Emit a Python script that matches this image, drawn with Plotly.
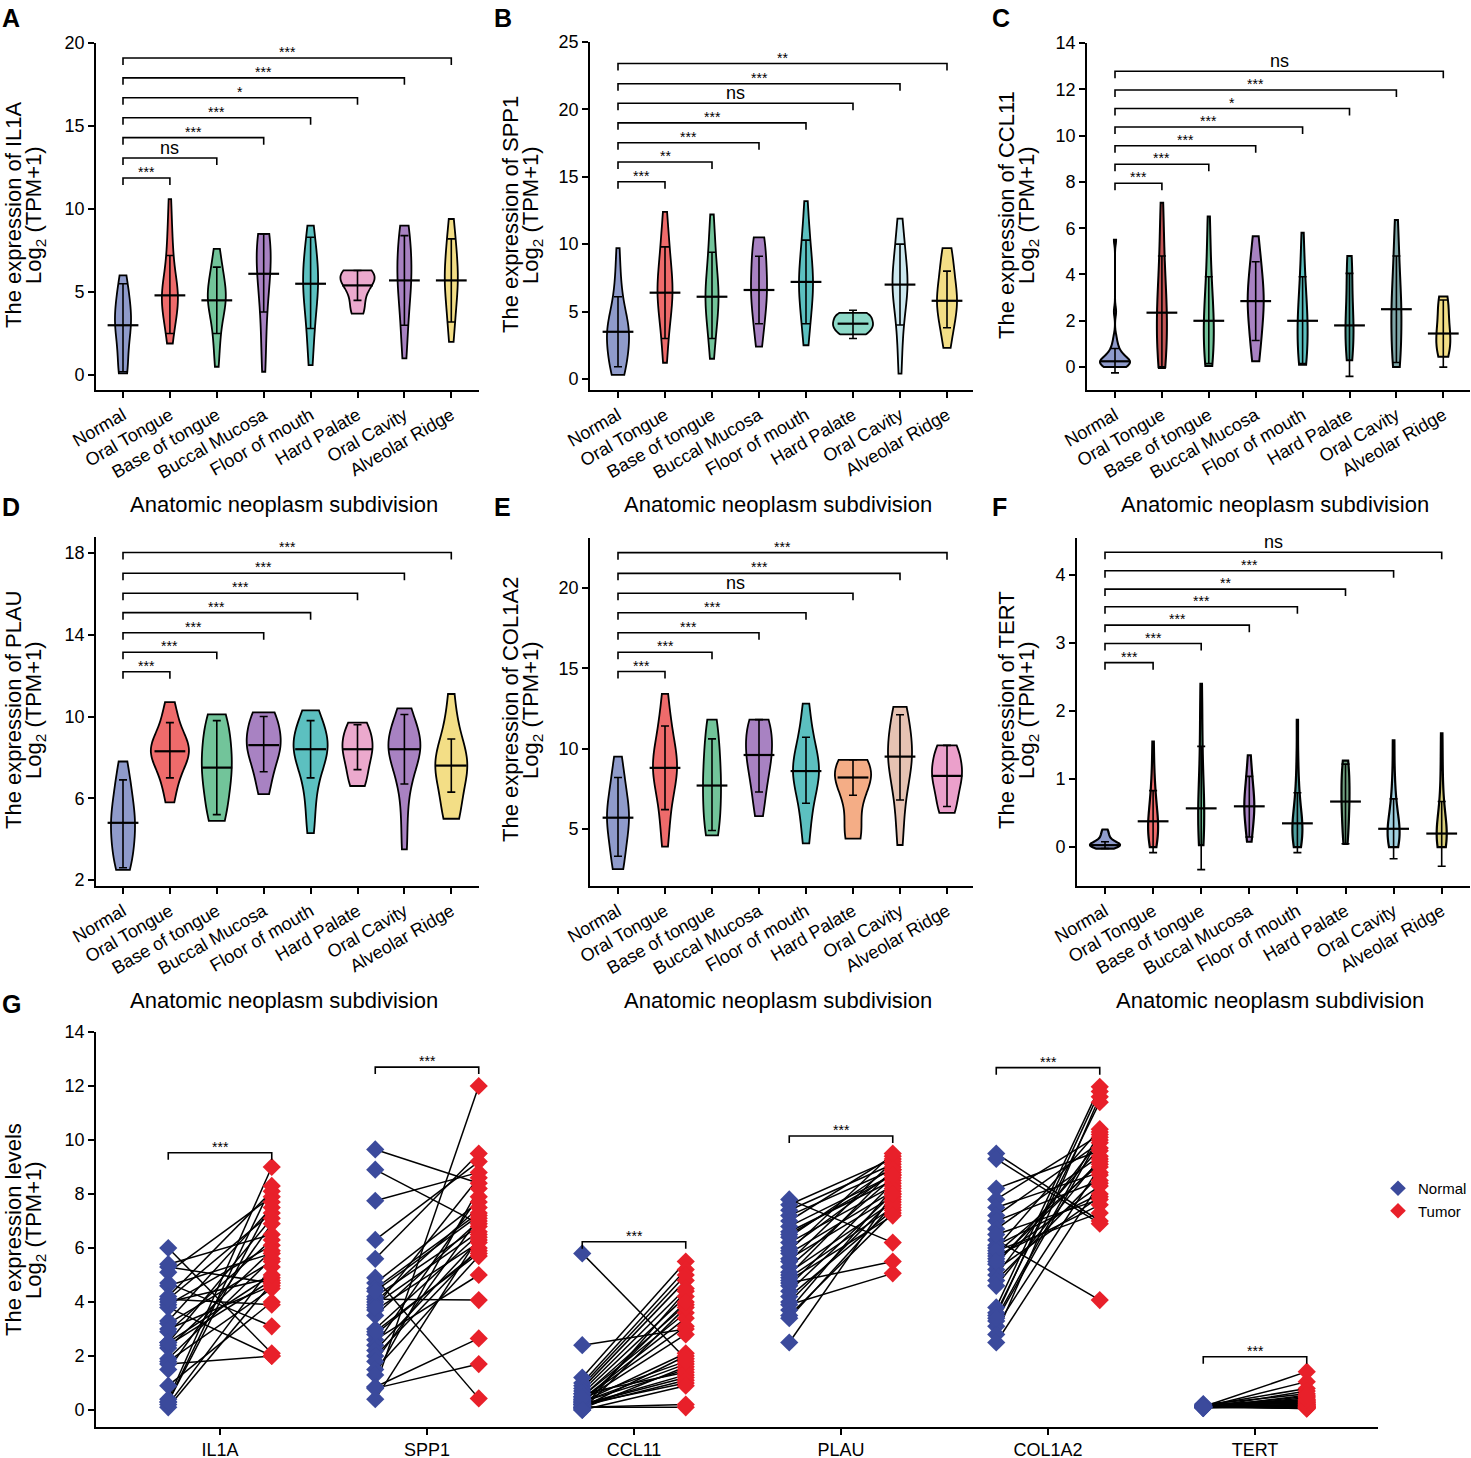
import plotly.graph_objects as go

W, H = 1471, 1458
FONT = "Liberation Sans, Arial, sans-serif"

categories = ["Normal", "Oral Tongue", "Base of tongue", "Buccal Mucosa",
              "Floor of mouth", "Hard Palate", "Oral Cavity", "Alveolar Ridge"]

# ---------------- Panel A : IL1A ----------------
il1a_values = [
    [0.1, 0.1, 0.2, 0.6, 1.2, 1.8, 2.3, 2.7, 2.9, 3.0, 3.1, 3.3, 3.6, 3.9, 4.2, 4.5, 4.8, 5.2, 5.6, 6.0],
    [1.9, 2.4, 2.9, 3.4, 3.8, 4.1, 4.3, 4.5, 4.7, 4.8, 4.9, 5.1, 5.4, 5.8, 6.3, 6.9, 7.5, 8.3, 9.2, 10.6],
    [0.5, 1.4, 2.2, 2.8, 3.3, 3.8, 4.1, 4.4, 4.5, 4.6, 4.8, 5.0, 5.2, 5.5, 5.8, 6.2, 6.6, 7.1, 7.6],
    [0.2, 1.2, 2.4, 3.4, 4.2, 4.9, 5.5, 5.9, 6.1, 6.4, 6.8, 7.2, 7.6, 7.9, 8.2, 8.4, 8.5, 8.5],
    [0.6, 1.6, 2.6, 3.3, 3.9, 4.4, 4.9, 5.3, 5.5, 5.7, 6.0, 6.4, 6.8, 7.3, 7.8, 8.3, 9.0],
    [3.7, 3.8, 4.2, 4.6, 5.0, 5.3, 5.5, 5.6, 5.8, 5.9, 6.0, 6.1, 6.2, 6.3, 6.3],
    [1.0, 2.0, 2.9, 3.6, 4.3, 4.9, 5.3, 5.7, 5.9, 6.2, 6.6, 7.0, 7.5, 8.0, 8.4, 8.7, 9.0],
    [2.0, 2.8, 3.4, 4.1, 4.6, 5.1, 5.5, 5.7, 5.9, 6.2, 6.6, 7.1, 7.6, 8.1, 8.6, 9.4],
]
il1a_median = [3.0, 4.8, 4.5, 6.1, 5.5, 5.4, 5.7, 5.7]
il1a_low = [0.2, 2.5, 2.5, 3.8, 2.8, 4.5, 3.0, 3.2]
il1a_high = [5.5, 7.2, 6.5, 8.5, 8.3, 6.3, 8.4, 8.2]
il1a_sig = ["***", "ns", "***", "***", "*", "***", "***"]

# ---------------- Panel B : SPP1 ----------------
spp1_values = [
    [0.3, 0.4, 0.7, 1.0, 1.4, 1.8, 2.2, 2.6, 2.9, 3.2, 3.4, 3.5, 3.7, 4.0, 4.3, 4.7, 5.2, 5.9, 6.8, 8.0, 9.7],
    [1.2, 2.5, 3.4, 4.2, 4.9, 5.4, 5.9, 6.2, 6.4, 6.6, 6.9, 7.3, 7.8, 8.4, 9.0, 9.6, 10.3, 11.2, 12.4],
    [1.5, 2.6, 3.4, 4.1, 4.7, 5.2, 5.7, 6.0, 6.1, 6.3, 6.7, 7.2, 7.8, 8.5, 9.2, 10.0, 11.0, 12.2],
    [2.4, 3.2, 4.0, 4.7, 5.3, 5.8, 6.2, 6.6, 6.9, 7.3, 7.8, 8.4, 9.0, 9.6, 10.1, 10.5, 10.5],
    [2.5, 3.5, 4.3, 5.0, 5.6, 6.2, 6.7, 7.1, 7.2, 7.4, 7.9, 8.5, 9.2, 9.9, 10.6, 11.5, 13.2],
    [3.3, 3.35, 3.5, 3.7, 3.9, 4.0, 4.1, 4.2, 4.4, 4.6, 4.75, 4.85, 4.9],
    [0.4, 2.2, 3.6, 4.6, 5.4, 6.0, 6.5, 6.9, 7.0, 7.2, 7.6, 8.1, 8.7, 9.4, 10.1, 10.9, 11.9],
    [2.3, 3.1, 3.8, 4.4, 4.9, 5.3, 5.7, 5.8, 6.0, 6.4, 6.9, 7.5, 8.1, 8.7, 9.3, 9.7],
]
spp1_median = [3.5, 6.4, 6.1, 6.6, 7.2, 4.1, 7.0, 5.8]
spp1_low = [0.9, 3.0, 3.0, 4.1, 4.1, 3.0, 4.0, 3.8]
spp1_high = [6.1, 9.8, 9.4, 9.1, 10.3, 5.1, 10.0, 8.0]
spp1_sig = ["***", "**", "***", "***", "ns", "***", "**"]

# ---------------- Panel C : CCL11 ----------------
ccl11_values = [
    [0.0, 0.02, 0.05, 0.08, 0.1, 0.12, 0.15, 0.18, 0.2, 0.22, 0.25, 0.28, 0.3, 0.35, 0.4, 0.45, 0.5, 0.6, 0.7, 0.85, 1.0, 1.3, 2.4, 5.5],
    [0.0, 0.1, 0.3, 0.6, 0.9, 1.3, 1.7, 2.0, 2.3, 2.4, 2.7, 3.1, 3.5, 4.0, 4.6, 5.4, 6.2, 7.1],
    [0.05, 0.1, 0.3, 0.6, 0.9, 1.2, 1.6, 1.9, 2.0, 2.2, 2.5, 2.9, 3.4, 3.9, 4.6, 5.5, 6.5],
    [0.25, 0.6, 1.1, 1.6, 2.0, 2.4, 2.7, 2.85, 3.0, 3.3, 3.7, 4.1, 4.5, 5.0, 5.65],
    [0.1, 0.15, 0.3, 0.6, 0.9, 1.3, 1.7, 1.9, 2.0, 2.2, 2.6, 3.0, 3.5, 4.0, 4.7, 5.8],
    [0.3, 0.4, 0.7, 1.0, 1.4, 1.7, 1.8, 2.0, 2.4, 2.9, 3.4, 3.9, 4.4, 4.8, 4.8],
    [0.0, 0.1, 0.3, 0.7, 1.1, 1.6, 2.0, 2.4, 2.5, 2.7, 3.1, 3.6, 4.2, 4.8, 5.5, 6.35],
    [0.45, 0.5, 0.7, 0.9, 1.1, 1.3, 1.45, 1.6, 1.9, 2.2, 2.5, 2.8, 3.0, 3.05],
]
ccl11_median = [0.25, 2.35, 2.0, 2.85, 2.0, 1.8, 2.5, 1.45]
ccl11_low = [-0.25, -0.05, 0.15, 1.15, 0.15, -0.4, 0.2, 0.0]
ccl11_high = [0.8, 4.8, 3.9, 4.55, 3.9, 4.05, 4.8, 2.9]
ccl11_sig = ["***", "***", "***", "***", "*", "***", "ns"]

# ---------------- Panel D : PLAU ----------------
plau_values = [
    [2.5, 2.6, 2.9, 3.2, 3.5, 3.8, 4.1, 4.4, 4.6, 4.8, 5.0, 5.2, 5.5, 5.8, 6.1, 6.5, 6.9, 7.3, 7.8],
    [5.8, 6.5, 7.0, 7.4, 7.7, 7.9, 8.1, 8.3, 8.4, 8.5, 8.7, 8.9, 9.2, 9.6, 10.1, 10.7],
    [4.9, 5.0, 5.5, 6.0, 6.5, 6.9, 7.2, 7.5, 7.7, 8.0, 8.4, 8.8, 9.2, 9.6, 9.9, 10.1],
    [6.2, 6.6, 7.2, 7.6, 7.9, 8.2, 8.4, 8.6, 8.7, 8.9, 9.1, 9.4, 9.7, 10.0, 10.2, 10.2],
    [4.3, 5.3, 6.2, 6.9, 7.4, 7.8, 8.1, 8.3, 8.4, 8.6, 8.8, 9.0, 9.3, 9.6, 10.0, 10.3],
    [6.6, 6.7, 7.0, 7.4, 7.7, 8.0, 8.2, 8.4, 8.5, 8.7, 8.9, 9.1, 9.4, 9.7, 9.7],
    [3.5, 5.0, 6.3, 7.0, 7.5, 7.9, 8.2, 8.4, 8.5, 8.7, 8.9, 9.2, 9.5, 9.9, 10.4],
    [5.0, 5.1, 5.4, 6.0, 6.6, 7.0, 7.3, 7.5, 7.6, 7.8, 8.0, 8.3, 8.7, 9.2, 9.9, 11.1],
]
plau_median = [4.8, 8.3, 7.5, 8.6, 8.4, 8.4, 8.4, 7.6]
plau_low = [2.6, 7.0, 5.2, 7.3, 7.0, 7.4, 6.7, 6.3]
plau_high = [6.9, 9.7, 9.8, 10.0, 9.8, 9.6, 10.1, 8.9]
plau_sig = ["***", "***", "***", "***", "***", "***", "***"]

# ---------------- Panel E : COL1A2 ----------------
col1a2_values = [
    [2.5, 2.6, 3.2, 3.8, 4.4, 4.9, 5.3, 5.6, 5.7, 5.9, 6.2, 6.6, 7.1, 7.6, 8.2, 8.8, 9.5],
    [3.9, 5.0, 6.0, 6.8, 7.5, 8.0, 8.4, 8.7, 8.8, 9.0, 9.3, 9.7, 10.2, 10.8, 11.4, 12.2, 13.4],
    [4.6, 4.7, 5.0, 5.6, 6.2, 6.8, 7.3, 7.7, 8.0, 8.5, 9.0, 9.6, 10.2, 10.8, 11.4, 11.8],
    [5.8, 6.6, 7.3, 7.9, 8.5, 8.9, 9.3, 9.6, 9.8, 10.1, 10.5, 10.9, 11.3, 11.7, 11.8, 11.8],
    [4.1, 5.3, 6.3, 7.0, 7.6, 8.1, 8.4, 8.6, 8.8, 9.1, 9.5, 10.0, 10.7, 11.5, 12.8],
    [4.4, 4.5, 4.7, 5.6, 6.6, 7.3, 7.7, 8.0, 8.2, 8.4, 8.6, 8.8, 9.0, 9.2, 9.3],
    [4.0, 5.5, 6.8, 7.7, 8.4, 8.9, 9.3, 9.5, 9.7, 10.1, 10.6, 11.2, 11.8, 12.3, 12.6],
    [6.0, 6.1, 6.5, 7.0, 7.5, 7.9, 8.2, 8.3, 8.5, 8.8, 9.1, 9.5, 9.9, 10.2, 10.2],
]
col1a2_median = [5.7, 8.8, 7.7, 9.6, 8.6, 8.2, 9.5, 8.3]
col1a2_low = [3.3, 6.2, 4.9, 7.3, 6.6, 7.1, 6.8, 6.4]
col1a2_high = [8.2, 11.4, 10.6, 11.8, 10.7, 9.3, 12.1, 10.2]
col1a2_sig = ["***", "***", "***", "***", "ns", "***", "***"]

# ---------------- Panel F : TERT ----------------
tert_values = [
    [-0.02, 0.0, 0.01, 0.02, 0.02, 0.03, 0.03, 0.04, 0.05, 0.06, 0.08, 0.1, 0.13, 0.17, 0.21, 0.26],
    [0.0, 0.05, 0.1, 0.15, 0.2, 0.25, 0.3, 0.35, 0.38, 0.42, 0.5, 0.6, 0.7, 0.8, 0.95, 1.2, 1.55],
    [0.03, 0.1, 0.2, 0.3, 0.4, 0.5, 0.57, 0.65, 0.8, 1.0, 1.3, 1.7, 2.0, 2.4],
    [0.08, 0.15, 0.3, 0.4, 0.5, 0.55, 0.6, 0.65, 0.7, 0.8, 0.9, 1.0, 1.15, 1.35],
    [0.0, 0.05, 0.1, 0.15, 0.2, 0.25, 0.3, 0.35, 0.4, 0.5, 0.6, 0.75, 0.95, 1.3, 1.87],
    [0.05, 0.1, 0.25, 0.4, 0.5, 0.6, 0.67, 0.75, 0.85, 0.95, 1.05, 1.15, 1.22, 1.27],
    [0.0, 0.03, 0.08, 0.12, 0.17, 0.22, 0.27, 0.32, 0.4, 0.5, 0.62, 0.8, 1.1, 1.57],
    [0.0, 0.02, 0.05, 0.1, 0.15, 0.2, 0.25, 0.3, 0.4, 0.5, 0.65, 0.9, 1.25, 1.67],
]
tert_median = [0.03, 0.38, 0.57, 0.6, 0.35, 0.67, 0.27, 0.2]
tert_low = [-0.02, -0.08, -0.33, 0.15, -0.08, 0.05, -0.17, -0.28]
tert_high = [0.08, 0.83, 1.48, 1.04, 0.8, 1.22, 0.71, 0.67]
tert_sig = ["***", "***", "***", "***", "**", "***", "ns"]

# ---------------- Panel G : paired normal / tumor ----------------
genes = ["IL1A", "SPP1", "CCL11", "PLAU", "COL1A2", "TERT"]
il1a_normal = [6.0, 5.4, 5.3, 5.1, 4.7, 4.6, 4.2, 4.1, 4.0, 3.9, 3.8, 3.3, 3.2, 3.0, 2.9,
               2.5, 2.4, 2.3, 1.9, 1.8, 1.7, 1.5, 0.9, 0.4, 0.3, 0.2, 0.1, 0.3, 4.1, 2.5]
il1a_tumor = [2.1, 6.5, 4.7, 7.9, 3.1, 5.8, 8.1, 7.3, 4.9, 6.1, 2.0, 7.5, 5.5, 4.6, 6.3,
              7.1, 4.8, 5.9, 5.6, 4.5, 2.0, 6.9, 4.0, 9.0, 8.3, 5.3, 4.7, 7.7, 3.9, 5.0]
spp1_normal = [9.65, 8.9, 7.75, 6.3, 5.6, 4.9, 4.7, 4.5, 4.2, 4.1, 4.0, 3.9, 3.7, 3.5, 3.0,
               2.8, 2.6, 2.4, 2.2, 2.0, 1.8, 1.5, 1.3, 0.85, 0.85, 0.8, 0.4, 3.8, 4.4, 2.9]
spp1_tumor = [8.4, 6.9, 8.8, 9.2, 9.5, 0.43, 7.7, 7.3, 6.8, 4.07, 7.5, 6.6, 6.2, 7.0, 6.5,
              5.9, 5.0, 7.9, 6.3, 6.0, 7.1, 5.7, 8.2, 12.0, 2.65, 1.7, 6.4, 8.6, 7.2, 5.8]
ccl11_normal = [5.8, 2.4, 1.2, 1.0, 0.9, 0.8, 0.7, 0.6, 0.5, 0.5, 0.4, 0.4, 0.3, 0.3, 0.3,
                0.2, 0.2, 0.2, 0.1, 0.1, 0.1, 0.05, 0.05, 0.0, 0.6, 0.15, 0.25, 0.35, 0.45, 0.0]
ccl11_tumor = [1.9, 3.0, 5.5, 5.2, 5.0, 4.8, 4.5, 4.2, 3.9, 3.6, 3.4, 3.1, 2.1, 1.7, 1.5,
               1.3, 1.2, 1.0, 0.2, 0.1, 2.0, 1.6, 4.4, 3.8, 1.4, 1.1, 4.0, 2.8, 1.8, 0.9]
plau_normal = [7.8, 7.6, 7.4, 7.2, 7.0, 6.8, 6.6, 6.4, 6.2, 6.0, 5.8, 5.6, 5.5, 5.3, 5.1,
               4.9, 4.7, 4.6, 4.4, 4.2, 4.0, 3.9, 3.7, 3.5, 3.4, 2.5, 5.9, 5.0, 6.5, 4.8]
plau_tumor = [6.2, 9.3, 9.1, 8.9, 9.4, 8.7, 8.5, 9.0, 8.3, 8.8, 8.1, 7.9, 9.2, 8.6, 7.7,
              7.5, 5.5, 8.4, 8.0, 7.4, 7.8, 5.06, 8.2, 7.3, 7.6, 8.0, 9.5, 8.9, 8.7, 7.2]
col1a2_normal = [9.5, 9.3, 8.2, 7.8, 7.5, 7.2, 7.0, 6.7, 6.3, 6.1, 6.0, 5.8, 5.7, 5.6, 5.4,
                 5.2, 5.0, 4.8, 4.6, 3.8, 3.6, 3.5, 3.3, 3.1, 2.8, 2.5, 5.9, 5.5, 6.5, 3.4]
col1a2_tumor = [7.0, 6.9, 9.6, 10.2, 8.8, 9.9, 8.5, 9.4, 4.07, 8.0, 10.4, 9.1, 7.6, 8.3, 9.7,
                7.9, 10.0, 8.7, 9.3, 11.97, 11.4, 11.8, 10.1, 9.0, 11.6, 8.4, 7.3, 9.2, 7.8, 10.3]
tert_normal = [0.12, 0.1, 0.15, 0.08, 0.2, 0.12, 0.1, 0.14, 0.09, 0.11, 0.13, 0.16, 0.1, 0.12, 0.18,
               0.07, 0.11, 0.13, 0.1, 0.15, 0.12, 0.09, 0.1, 0.14, 0.22, 0.11, 0.12, 0.1, 0.13, 0.08]
tert_tumor = [1.42, 1.05, 0.8, 0.7, 0.6, 0.5, 0.45, 0.4, 0.35, 0.3, 0.3, 0.25, 0.2, 0.2, 0.15,
              0.15, 0.1, 0.1, 0.08, 0.05, 0.12, 0.18, 0.22, 0.28, 0.33, 0.06, 0.09, 0.14, 0.38, 0.55]
paired_normal = [il1a_normal, spp1_normal, ccl11_normal, plau_normal, col1a2_normal, tert_normal]
paired_tumor = [il1a_tumor, spp1_tumor, ccl11_tumor, plau_tumor, col1a2_tumor, tert_tumor]
paired_bracket = [9.53, 12.7, 6.23, 10.15, 12.68, 1.97]

# ---------------- styles ----------------
BLUE, RED, GREEN, PURPLE = "#8F9BCB", "#EE6B6B", "#72C49A", "#A882C2"
TEAL, PINK, YELLOW = "#5CC0C0", "#EBA9CD", "#F3DE86"

panels = [
    dict(letter="A", gene="IL1A", values=il1a_values, med=il1a_median, lo=il1a_low, hi=il1a_high,
         sig=il1a_sig, bracket=[11.87, 13.07, 14.3, 15.5, 16.7, 17.9, 19.1],
         colors=[BLUE, RED, GREEN, PURPLE, TEAL, PINK, PURPLE, YELLOW],
         widths=[16, 16, 18, 14, 15, 34, 14, 13], lw=1.8,
         xpx=(96, 479), ypx=(43, 390), yrange=[-0.9, 20], tick0=0, dtick=5,
         cat0=123, step=46.9, ytx=(13, 35), ytc=215, xty=505, lpos=(0, 2)),
    dict(letter="B", gene="SPP1", values=spp1_values, med=spp1_median, lo=spp1_low, hi=spp1_high,
         sig=spp1_sig, bracket=[14.63, 16.1, 17.53, 19.0, 20.45, 21.9, 23.4],
         colors=[BLUE, RED, GREEN, PURPLE, TEAL, "#8DD9C8", "#CDE8EF", YELLOW],
         widths=[22, 15, 13, 16, 14, 40, 15, 20], lw=1.8,
         xpx=(590, 973), ypx=(42, 390), yrange=[-0.82, 25], tick0=0, dtick=5,
         cat0=618, step=47.0, ytx=(510, 532), ytc=215, xty=505, lpos=(492, 2)),
    dict(letter="C", gene="CCL11", values=ccl11_values, med=ccl11_median, lo=ccl11_low, hi=ccl11_high,
         sig=ccl11_sig, bracket=[7.94, 8.76, 9.56, 10.37, 11.17, 11.97, 12.78],
         colors=[BLUE, "#C45656", GREEN, PURPLE, TEAL, "#4E9E96", "#7FA7A8", YELLOW],
         widths=[30, 10, 10, 16, 10, 8, 10, 14], lw=2.0,
         xpx=(1087, 1470), ypx=(43, 390), yrange=[-0.99, 14], tick0=0, dtick=2,
         cat0=1115, step=46.9, ytx=(1006, 1028), ytc=215, xty=505, lpos=(990, 2)),
    dict(letter="D", gene="PLAU", values=plau_values, med=plau_median, lo=plau_low, hi=plau_high,
         sig=plau_sig, bracket=[12.19, 13.14, 14.1, 15.08, 16.03, 17.01, 18.02],
         colors=[BLUE, RED, GREEN, PURPLE, TEAL, PINK, PURPLE, YELLOW],
         widths=[24, 38, 30, 34, 34, 30, 32, 32], lw=1.8,
         xpx=(96, 479), ypx=(537, 886), yrange=[1.71, 18.78], tick0=2, dtick=4,
         cat0=123, step=46.9, ytx=(13, 35), ytc=710, xty=1000, lpos=(0, 491)),
    dict(letter="E", gene="COL1A2", values=col1a2_values, med=col1a2_median, lo=col1a2_low, hi=col1a2_high,
         sig=col1a2_sig, bracket=[14.79, 15.99, 17.21, 18.45, 19.66, 20.9, 22.19],
         colors=[BLUE, RED, GREEN, PURPLE, TEAL, "#F4AD86", "#E6C3B3", "#EBA0CB"],
         widths=[22, 24, 18, 26, 26, 36, 24, 30], lw=1.8,
         xpx=(590, 973), ypx=(538, 886), yrange=[1.45, 23.1], tick0=0, dtick=5,
         cat0=618, step=47.0, ytx=(510, 532), ytc=710, xty=1000, lpos=(492, 491)),
    dict(letter="F", gene="TERT", values=tert_values, med=tert_median, lo=tert_low, hi=tert_high,
         sig=tert_sig, bracket=[2.71, 2.99, 3.26, 3.53, 3.79, 4.06, 4.33],
         colors=[BLUE, RED, GREEN, PURPLE, "#4F9FA0", "#6F9F7F", "#9FD0E0", "#D9CF7A"],
         widths=[30, 10, 6, 10, 10, 8, 12, 10], lw=2.2,
         xpx=(1077, 1470), ypx=(538, 886), yrange=[-0.57, 4.54], tick0=0, dtick=1,
         cat0=1105, step=48.1, ytx=(1006, 1028), ytc=710, xty=1000, lpos=(990, 491)),
]

fig = go.Figure()
layout = dict(template="none", width=W, height=H,
              margin=dict(l=0, r=0, t=0, b=0, autoexpand=False),
              paper_bgcolor="white", plot_bgcolor="white", violinmode="overlay",
              font=dict(family=FONT, color="black"), showlegend=True)
shapes, annotations = [], []


def fx(px):
    return px / W


def fy(py):
    return 1 - py / H


def paper_text(px, py, text, size, angle=0, bold=False):
    return dict(x=fx(px), y=fy(py), xref="paper", yref="paper", xanchor="center",
                yanchor="middle", text=f"<b>{text}</b>" if bold else text, textangle=angle,
                showarrow=False, font=dict(size=size, family=FONT, color="black"))


axis_common = dict(showline=True, linecolor="black", linewidth=1.6, ticks="outside",
                   tickcolor="black", tickwidth=1.6, ticklen=6, showgrid=False,
                   zeroline=False, automargin=False,
                   tickfont=dict(size=18, family=FONT, color="black"))

for k, p in enumerate(panels):
    n = k + 1
    xa = "x" if n == 1 else f"x{n}"
    ya = "y" if n == 1 else f"y{n}"
    xr = [(p["xpx"][0] - p["cat0"]) / p["step"], (p["xpx"][1] - p["cat0"]) / p["step"]]
    layout["xaxis" if n == 1 else f"xaxis{n}"] = dict(
        axis_common, domain=[fx(p["xpx"][0]), fx(p["xpx"][1])], range=xr, anchor=ya,
        tickmode="array", tickvals=list(range(len(categories))), ticktext=categories,
        tickangle=-30)
    layout["yaxis" if n == 1 else f"yaxis{n}"] = dict(
        axis_common, domain=[fy(p["ypx"][1]), fy(p["ypx"][0])], range=p["yrange"], anchor=xa,
        tick0=p["tick0"], dtick=p["dtick"])
    ppu = (p["ypx"][1] - p["ypx"][0]) / (p["yrange"][1] - p["yrange"][0])

    for i, cat in enumerate(categories):
        vals = p["values"][i]
        fig.add_trace(go.Violin(
            x=[i] * len(vals), y=vals, xaxis=xa, yaxis=ya, name=cat,
            fillcolor=p["colors"][i], line=dict(color="black", width=p["lw"]),
            opacity=1, spanmode="hard", points=False, box_visible=False,
            meanline_visible=False, width=p["widths"][i] / p["step"],
            scalemode="width", showlegend=False, hoverinfo="skip"))

    fig.add_trace(go.Scatter(
        x=list(range(len(categories))), y=p["med"], xaxis=xa, yaxis=ya, mode="markers",
        marker=dict(symbol="line-ew", size=22, line=dict(color="black", width=2.2)),
        error_y=dict(type="data", symmetric=False,
                     array=[h - m for h, m in zip(p["hi"], p["med"])],
                     arrayminus=[m - l for m, l in zip(p["med"], p["lo"])],
                     color="black", thickness=1.6, width=4),
        showlegend=False, hoverinfo="skip"))

    d = 7 / ppu
    for j, (lab, yb) in enumerate(zip(p["sig"], p["bracket"])):
        x1 = j + 1
        shapes.append(dict(type="path", xref=xa, yref=ya,
                           path=f"M 0,{yb - d} L 0,{yb} L {x1},{yb} L {x1},{yb - d}",
                           line=dict(color="black", width=1.6)))
        if lab == "ns":
            annotations.append(dict(x=x1 / 2, y=yb, xref=xa, yref=ya, text="ns",
                                    showarrow=False, yanchor="bottom", yshift=-2,
                                    font=dict(size=18, family=FONT)))
        else:
            annotations.append(dict(x=x1 / 2, y=yb, xref=xa, yref=ya, text=lab,
                                    showarrow=False, yanchor="bottom", yshift=-4,
                                    font=dict(size=14, family=FONT)))

    annotations.append(paper_text(p["ytx"][0], p["ytc"], f"The expression of {p['gene']}", 22, -90))
    annotations.append(paper_text(p["ytx"][1], p["ytc"], "Log<sub>2</sub> (TPM+1)", 22, -90))
    annotations.append(paper_text((p["xpx"][0] + p["xpx"][1]) / 2 - 4, p["xty"],
                                  "Anatomic neoplasm subdivision", 22))
    annotations.append(dict(x=fx(p["lpos"][0]), y=fy(p["lpos"][1]), xref="paper", yref="paper",
                            xanchor="left", yanchor="top", text=f"<b>{p['letter']}</b>",
                            showarrow=False, font=dict(size=25, family=FONT)))

# ---------------- Panel G ----------------
gx = (96, 1378)
gy = (1032, 1427)
g_cat0, g_step, g_off = 220, 207, 0.25
layout["xaxis7"] = dict(axis_common, domain=[fx(gx[0]), fx(gx[1])],
                        range=[(gx[0] - g_cat0) / g_step, (gx[1] - g_cat0) / g_step],
                        anchor="y7", tickmode="array", tickvals=list(range(len(genes))),
                        ticktext=genes)
layout["yaxis7"] = dict(axis_common, domain=[fy(gy[1]), fy(gy[0])], range=[-0.63, 14],
                        anchor="x7", tick0=0, dtick=2)
ppu_g = (gy[1] - gy[0]) / 14.63

for i, g in enumerate(genes):
    lx, ly = [], []
    for a, b in zip(paired_normal[i], paired_tumor[i]):
        lx += [i - g_off, i + g_off, None]
        ly += [a, b, None]
    fig.add_trace(go.Scatter(x=lx, y=ly, xaxis="x7", yaxis="y7", mode="lines",
                             line=dict(color="black", width=1.5), showlegend=False,
                             hoverinfo="skip"))
for i, g in enumerate(genes):
    fig.add_trace(go.Scatter(x=[i - g_off] * len(paired_normal[i]), y=paired_normal[i],
                             xaxis="x7", yaxis="y7", mode="markers", name="Normal",
                             legendgroup="Normal", showlegend=(i == 0),
                             marker=dict(symbol="diamond", size=14, color="#3B4A9C")))
    fig.add_trace(go.Scatter(x=[i + g_off] * len(paired_tumor[i]), y=paired_tumor[i],
                             xaxis="x7", yaxis="y7", mode="markers", name="Tumor",
                             legendgroup="Tumor", showlegend=(i == 0),
                             marker=dict(symbol="diamond", size=14, color="#E8202A")))
    yb = paired_bracket[i]
    d = 7 / ppu_g
    shapes.append(dict(type="path", xref="x7", yref="y7",
                       path=f"M {i - g_off},{yb - d} L {i - g_off},{yb} L {i + g_off},{yb} L {i + g_off},{yb - d}",
                       line=dict(color="black", width=1.6)))
    annotations.append(dict(x=i, y=yb, xref="x7", yref="y7", text="***", showarrow=False,
                            yanchor="bottom", yshift=-4, font=dict(size=14, family=FONT)))

annotations.append(paper_text(13, 1230, "The expression levels", 22, -90))
annotations.append(paper_text(35, 1230, "Log<sub>2</sub> (TPM+1)", 22, -90))
annotations.append(dict(x=0, y=fy(988), xref="paper", yref="paper", xanchor="left",
                        yanchor="top", text="<b>G</b>", showarrow=False,
                        font=dict(size=25, family=FONT)))

layout["legend"] = dict(x=fx(1378), y=fy(1172), xanchor="left", yanchor="top",
                        font=dict(size=15, family=FONT), bgcolor="rgba(0,0,0,0)",
                        tracegroupgap=0, itemsizing="constant")
layout["shapes"] = shapes
layout["annotations"] = annotations
fig.update_layout(**layout)
fig.write_html("out.html", config={"displayModeBar": False},
               post_script="document.body.style.margin='0px';")
